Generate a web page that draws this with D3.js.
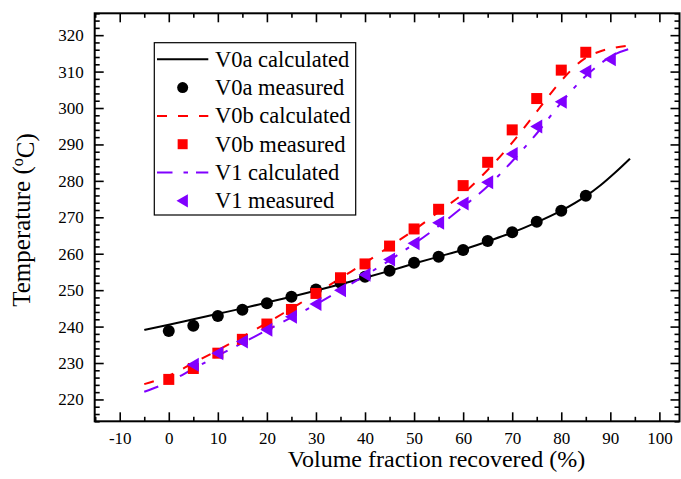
<!DOCTYPE html>
<html>
<head>
<meta charset="utf-8">
<script src="https://cdn.jsdelivr.net/npm/d3@7"></script>
<style>
  body { margin: 0; background: #fff; }
  svg { display: block; }
</style>
</head>
<body>
<div id="chart"></div>
<script>
/**
 * DATA
 * */
const measX = [0, 5, 10, 15, 20, 25, 30, 35, 40, 45, 50, 55, 60, 65, 70, 75, 80, 85];
const v1X = [5, 10, 15, 20, 25, 30, 35, 40, 45, 50, 55, 60, 65, 70, 75, 80, 85, 90];
const calcX = [-5, 0, 5, 10, 15, 20, 25, 30, 35, 40, 45, 50, 55, 60, 65, 70, 75, 80, 85, 88, 91, 94];

const v0aMeas = [238.8, 240.2, 242.9, 244.6, 246.4, 248.2, 250.2, 252.0, 253.7, 255.3, 257.5, 259.2, 261.0, 263.5, 265.9, 268.8, 271.8, 275.9];
const v0bMeas = [225.5, 228.5, 232.7, 236.5, 240.7, 244.7, 249.1, 253.4, 257.2, 262.1, 266.8, 272.2, 278.7, 285.1, 294.0, 302.6, 310.4, 315.3];
const v1Meas = [229.5, 232.7, 235.9, 239.1, 242.7, 246.2, 250.0, 254.2, 258.4, 262.9, 268.5, 273.8, 279.6, 287.4, 294.9, 301.7, 310.0, 313.4];

const v0aCalc = [239.1, 240.5, 242.0, 243.5, 245.0, 246.6, 248.2, 249.9, 251.6, 253.4, 255.3, 257.3, 259.2, 261.1, 263.4, 265.8, 268.6, 271.8, 275.8, 278.8, 282.3, 286.1];
const v0bCalc = [224.2, 226.5, 230.0, 233.5, 237.2, 241.0, 245.0, 249.0, 253.3, 257.5, 262.0, 266.5, 271.5, 276.5, 283.0, 290.5, 299.0, 307.5, 313.8, 315.6, 316.6, 317.2];
const v1Calc = [222.1, 224.8, 228.4, 232.0, 235.5, 239.0, 242.5, 246.1, 250.0, 254.0, 258.2, 262.7, 267.6, 272.9, 278.5, 285.4, 293.0, 301.5, 308.8, 312.2, 314.8, 316.3];

const xTicks = [-10, 0, 10, 20, 30, 40, 50, 60, 70, 80, 90, 100];
const yTicks = [220, 230, 240, 250, 260, 270, 280, 290, 300, 310, 320];

const legendLabels = ["V0a calculated", "V0a measured", "V0b calculated", "V0b measured", "V1 calculated", "V1 measured"];

/**
 * CONSTANTS
 * */
const width = 681, height = 479;
const RED = "#ff0000", PURPLE = "#8000ff";
const FONT = "'Liberation Serif', 'Times New Roman', Times, serif";

const svg = d3.select("#chart").append("svg")
  .attr("width", width)
  .attr("height", height)
  .attr("font-family", FONT);

const x = d3.scaleLinear().domain([-15.1, 104.1]).range([94.7, 679.5]);
const y = d3.scaleLinear().domain([214, 326]).range([421.3, 13.3]);

const plotLeft = x.range()[0], plotRight = x.range()[1];
const plotTop = y.range()[1], plotBottom = y.range()[0];

// minor tick values
const xMinor = d3.range(-15, 105, 5).filter(v => v % 10 !== 0);
const yMinor = d3.range(214, 327, 2).filter(v => v % 10 !== 0);

function styleAxis(g) {
  g.attr("font-family", FONT).attr("font-size", 17);
  g.select(".domain").remove();
  g.selectAll(".tick line").attr("stroke", "#000").attr("stroke-width", 1.6);
  g.selectAll(".tick text").attr("fill", "#000");
}

// bottom
svg.append("g").attr("transform", `translate(0,${plotBottom})`)
  .call(d3.axisBottom(x).tickValues(xTicks).tickSizeInner(-9).tickSizeOuter(0).tickPadding(11).tickFormat(d => String(d)))
  .call(styleAxis);
svg.append("g").attr("transform", `translate(0,${plotBottom})`)
  .call(d3.axisBottom(x).tickValues(xMinor).tickSizeInner(-4.5).tickSizeOuter(0).tickFormat(""))
  .call(styleAxis);
// top
svg.append("g").attr("transform", `translate(0,${plotTop})`)
  .call(d3.axisTop(x).tickValues(xTicks).tickSizeInner(-9).tickSizeOuter(0).tickFormat(""))
  .call(styleAxis);
svg.append("g").attr("transform", `translate(0,${plotTop})`)
  .call(d3.axisTop(x).tickValues(xMinor).tickSizeInner(-4.5).tickSizeOuter(0).tickFormat(""))
  .call(styleAxis);
// left
svg.append("g").attr("transform", `translate(${plotLeft},0)`)
  .call(d3.axisLeft(y).tickValues(yTicks).tickSizeInner(-9).tickSizeOuter(0).tickPadding(11).tickFormat(d => String(d)))
  .call(styleAxis);
svg.append("g").attr("transform", `translate(${plotLeft},0)`)
  .call(d3.axisLeft(y).tickValues(yMinor).tickSizeInner(-5).tickSizeOuter(0).tickFormat(""))
  .call(styleAxis);
// right
svg.append("g").attr("transform", `translate(${plotRight},0)`)
  .call(d3.axisRight(y).tickValues(yTicks).tickSizeInner(-9).tickSizeOuter(0).tickFormat(""))
  .call(styleAxis);
svg.append("g").attr("transform", `translate(${plotRight},0)`)
  .call(d3.axisRight(y).tickValues(yMinor).tickSizeInner(-5).tickSizeOuter(0).tickFormat(""))
  .call(styleAxis);

// frame
svg.append("rect")
  .attr("x", plotLeft).attr("y", plotTop)
  .attr("width", plotRight - plotLeft).attr("height", plotBottom - plotTop)
  .attr("fill", "none").attr("stroke", "#000").attr("stroke-width", 2);

// axis titles
svg.append("text")
  .attr("x", 436.5).attr("y", 467)
  .attr("text-anchor", "middle")
  .attr("font-size", 24)
  .text("Volume fraction recovered (%)");

const yTitle = svg.append("text")
  .attr("transform", "translate(30,220) rotate(-90)")
  .attr("text-anchor", "middle")
  .attr("font-size", 25);
yTitle.append("tspan").text("Temperature (");
yTitle.append("tspan").attr("dy", "-0.45em").attr("font-size", 16).text("o");
yTitle.append("tspan").attr("dy", "0.45em").text("C)");

/**
 * SERIES
 * */
const line = d3.line()
  .x(d => x(d[0]))
  .y(d => y(d[1]))
  .curve(d3.curveMonotoneX);

const plot = svg.append("g");

plot.append("path")
  .datum(d3.zip(calcX, v0aCalc))
  .attr("d", line)
  .attr("fill", "none").attr("stroke", "#000").attr("stroke-width", 2);

plot.append("path")
  .datum(d3.zip(calcX, v0bCalc))
  .attr("d", line)
  .attr("fill", "none").attr("stroke", RED).attr("stroke-width", 2)
  .attr("stroke-dasharray", "10,11");

plot.append("path")
  .datum(d3.zip(calcX, v1Calc))
  .attr("d", line)
  .attr("fill", "none").attr("stroke", PURPLE).attr("stroke-width", 2)
  .attr("stroke-dasharray", "15,10,4,10");

const triangle = (cx, cy, s) =>
  `M${cx - 6.5 * s},${cy}L${cx + 5.5 * s},${cy - 7 * s}L${cx + 5.5 * s},${cy + 7 * s}Z`;

plot.selectAll(".v0a").data(d3.zip(measX, v0aMeas)).join("circle")
  .attr("class", "v0a")
  .attr("cx", d => x(d[0])).attr("cy", d => y(d[1]))
  .attr("r", 6).attr("fill", "#000");

plot.selectAll(".v0b").data(d3.zip(measX, v0bMeas)).join("rect")
  .attr("class", "v0b")
  .attr("x", d => x(d[0]) - 5.5).attr("y", d => y(d[1]) - 5.5)
  .attr("width", 11).attr("height", 11).attr("fill", RED);

plot.selectAll(".v1").data(d3.zip(v1X, v1Meas)).join("path")
  .attr("class", "v1")
  .attr("d", d => triangle(x(d[0]), y(d[1]), 1))
  .attr("fill", PURPLE);

/**
 * LEGEND
 * */
const legend = svg.append("g");
legend.append("rect")
  .attr("x", 154.3).attr("y", 42.7)
  .attr("width", 201.4).attr("height", 172.3)
  .attr("fill", "#fff").attr("stroke", "#000").attr("stroke-width", 1.2);

const rowY = i => 59.3 + i * 28.3;
const sx0 = 157, sx1 = 208.3, sxc = (sx0 + sx1) / 2;

legend.append("line").attr("x1", sx0).attr("x2", sx1).attr("y1", rowY(0)).attr("y2", rowY(0))
  .attr("stroke", "#000").attr("stroke-width", 2);
legend.append("circle").attr("cx", sxc).attr("cy", rowY(1)).attr("r", 5.5).attr("fill", "#000");
legend.append("line").attr("x1", sx0).attr("x2", sx1).attr("y1", rowY(2)).attr("y2", rowY(2))
  .attr("stroke", RED).attr("stroke-width", 2).attr("stroke-dasharray", "10,11");
legend.append("rect").attr("x", sxc - 5).attr("y", rowY(3) - 5).attr("width", 10).attr("height", 10).attr("fill", RED);
legend.append("line").attr("x1", sx0).attr("x2", sx1).attr("y1", rowY(4)).attr("y2", rowY(4))
  .attr("stroke", PURPLE).attr("stroke-width", 2).attr("stroke-dasharray", "15.5,11,4.5,8");
legend.append("path").attr("d", triangle(sxc, rowY(5), 0.95)).attr("fill", PURPLE);

legend.selectAll(".lbl").data(legendLabels).join("text")
  .attr("class", "lbl")
  .attr("x", 215).attr("y", (d, i) => rowY(i) + 7.5)
  .attr("font-size", 22.5)
  .text(d => d);
</script>
</body>
</html>
